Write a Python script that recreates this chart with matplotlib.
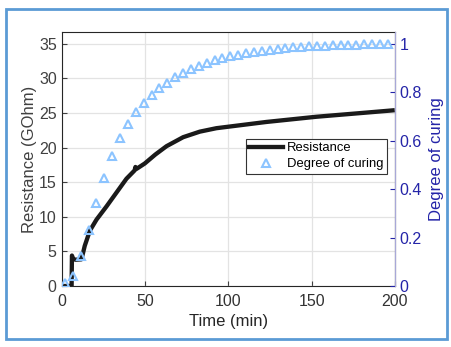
import matplotlib
matplotlib.use("Agg")
import matplotlib.pyplot as plt
from matplotlib.patches import Rectangle
from matplotlib.lines import Line2D

plt.rcParams['font.family'] = ['Liberation Sans', 'DejaVu Sans']

# Resistance trace (GOhm) versus time (min)
res_time = [0, 5.6, 5.8, 6.5, 8, 11.5, 12.5, 13.5, 16.6, 20.6, 26.6, 32.6, 38.6,
            43.5, 44.0, 44.5, 49.6, 56, 62.7, 72.7, 82.7, 92.7, 102.7, 112.7,
            122.7, 132.7, 142.7, 152.7, 162.7, 172.7, 182.7, 200]
resistance = [0, 0, 4.4, 3.9, 3.8, 3.85, 4.8, 5.8, 8.0, 9.6, 11.5, 13.5, 15.5,
              16.7, 17.2, 16.9, 17.7, 19.0, 20.2, 21.5, 22.3, 22.8, 23.1, 23.4,
              23.7, 23.95, 24.2, 24.45, 24.65, 24.85, 25.05, 25.4]

# Degree of curing samples
cure_time = [1.6, 6.3, 11.1, 15.8, 20.5, 25.3, 30.0, 34.8, 39.5, 44.2, 49.0,
             53.7, 58.4, 63.2, 67.9, 72.7, 77.4, 82.1, 86.9, 91.6, 96.3, 101.1,
             105.8, 110.6, 115.3, 120.0, 124.8, 129.5, 134.2, 139.0, 143.7,
             148.5, 153.2, 157.9, 162.7, 167.4, 172.1, 176.9, 181.6, 186.4,
             191.1, 195.8]
cure_degree = [0.012, 0.043, 0.123, 0.233, 0.344, 0.446, 0.537, 0.612, 0.668,
               0.718, 0.756, 0.788, 0.817, 0.840, 0.861, 0.879, 0.894, 0.908,
               0.920, 0.931, 0.941, 0.949, 0.955, 0.961, 0.967, 0.971, 0.975,
               0.979, 0.982, 0.985, 0.988, 0.989, 0.990, 0.992, 0.993, 0.994,
               0.996, 0.996, 0.997, 0.997, 0.998, 1.000]

x_ticks = [0, 50, 100, 150, 200]
left_ticks = [0, 5, 10, 15, 20, 25, 30, 35]
right_ticks = [0, 0.2, 0.4, 0.6, 0.8, 1]
right_labels = ['0', '0.2', '0.4', '0.6', '0.8', '1']

gray_txt = '#404040'
blue_axis = '#2424a8'
cure_color = '#8cc4ff'

fig = plt.figure(figsize=(4.52, 3.47), dpi=100)
ax = fig.add_axes([62.3 / 452, (347 - 286) / 347, 332.4 / 452, 254 / 347])
ax2 = ax.twinx()

ax.plot(res_time, resistance, color='#1a1a1a', lw=3.1, solid_capstyle='butt')
ax2.plot(cure_time, cure_degree, linestyle='none', marker='^', markersize=5.6,
         markerfacecolor='none', markeredgecolor=cure_color, markeredgewidth=1.5)

ymax = 36.7
ax.set_xlim(0, 200)
ax.set_ylim(0, ymax)
ax2.set_ylim(0, ymax / 35)

ax.set_xticks(x_ticks)
ax.set_yticks(left_ticks)
ax2.set_yticks(right_ticks)
ax2.set_yticklabels(right_labels)

ax.grid(True, color='#e3e3e3', lw=0.9)
ax.set_axisbelow(True)

ax.tick_params(axis='both', direction='in', length=3.5, labelsize=11.5,
               colors=gray_txt, width=0.8)
ax.tick_params(axis='x', labelcolor='#333333', pad=6)
ax.tick_params(axis='y', pad=4)
ax2.tick_params(axis='y', direction='in', length=3.5, labelsize=11.5,
                colors=blue_axis, width=0.8, pad=3.5)

for side in ['left', 'bottom', 'top']:
    ax.spines[side].set_color('#262626')
    ax.spines[side].set_linewidth(0.8)
ax2.spines['right'].set_color('#a8a8d8')
ax2.spines['right'].set_linewidth(0.8)
for side in ['left', 'bottom', 'top']:
    ax2.spines[side].set_visible(False)

ax.set_xlabel('Time (min)', fontsize=12, color='#262626', labelpad=3.5)
ax.set_ylabel('Resistance (GOhm)', fontsize=12, color=gray_txt, labelpad=1.5)
ax2.set_ylabel('Degree of curing', fontsize=12, color=blue_axis, labelpad=5)

handles = [Line2D([], [], color='#1a1a1a', lw=3.1),
           Line2D([], [], linestyle='none', marker='^', markersize=5.6,
                  markerfacecolor='none', markeredgecolor=cure_color,
                  markeredgewidth=1.5)]
leg = ax2.legend(handles, ['Resistance', 'Degree of curing'], loc='upper right',
                 bbox_to_anchor=(0.977, 0.579), fontsize=9.4, frameon=True,
                 fancybox=False, edgecolor='#333333', framealpha=1,
                 borderpad=0.25, handlelength=2.6, handletextpad=0.3,
                 labelspacing=0.3, borderaxespad=0)
leg.get_frame().set_linewidth(0.8)

fig.patches.append(Rectangle((6 / 452, 8 / 347), 441 / 452, 330 / 347,
                             transform=fig.transFigure, fill=False,
                             edgecolor='#5b9bd5', linewidth=2.0))

fig.savefig('out.png', dpi=100)
